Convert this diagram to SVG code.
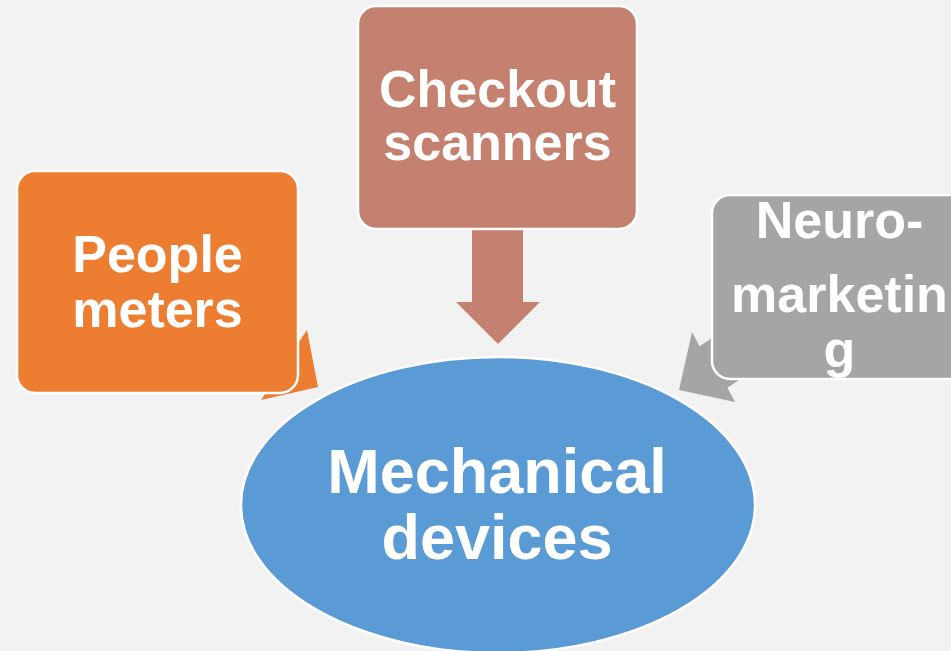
<svg xmlns="http://www.w3.org/2000/svg" width="951" height="651" viewBox="0 0 951 651">
  <style>
    .box { stroke: #ffffff; stroke-width: 2.5; }
    .lbl { font-family: "Liberation Sans", Arial, sans-serif; font-weight: bold; fill: #ffffff; text-anchor: middle; }
    .small { font-size: 52px; }
    .big { font-size: 63px; }
  </style>
  <rect x="0" y="0" width="951" height="651" fill="#f2f2f2"/>

  <!-- block arrows pointing into the central ellipse -->
  <g id="connectors">
    <polygon fill="#ed7d31" points="318,387 261,400 270.2,386.4 169.2,321.4 196.8,278.6 297.8,343.6 307,330"/>
    <polygon fill="#c5816f" points="472,215 523,215 523,302 540,302 498,344 456,302 472,302"/>
    <polygon fill="#a5a5a5" points="679,390 692,332 699.6,346.2 799,280 827,322 727.4,387.8 735,402"/>
  </g>

  <g id="people-meters">
    <rect class="box" x="17" y="171" width="281" height="222" rx="18" fill="#ed7d31"/>
    <text class="lbl small" x="157.5" y="272">People</text>
    <text class="lbl small" x="157.5" y="327">meters</text>
  </g>

  <g id="checkout-scanners">
    <rect class="box" x="358" y="6" width="279" height="223" rx="18" fill="#c5816f"/>
    <text class="lbl small" x="497.5" y="107">Checkout</text>
    <text class="lbl small" x="497.5" y="160">scanners</text>
  </g>

  <g id="neuromarketing">
    <rect class="box" x="712" y="195" width="256" height="184" rx="18" fill="#a5a5a5"/>
    <text class="lbl small" x="839.5" y="238">Neuro-</text>
    <text class="lbl small" x="839.5" y="312">marketin</text>
    <text class="lbl small" x="839.5" y="367">g</text>
  </g>

  <g id="mechanical-devices">
    <ellipse class="box" cx="498" cy="505" rx="257" ry="148" fill="#5b9bd5"/>
    <text class="lbl big" x="497" y="493">Mechanical</text>
    <text class="lbl big" x="497" y="559">devices</text>
  </g>
</svg>
